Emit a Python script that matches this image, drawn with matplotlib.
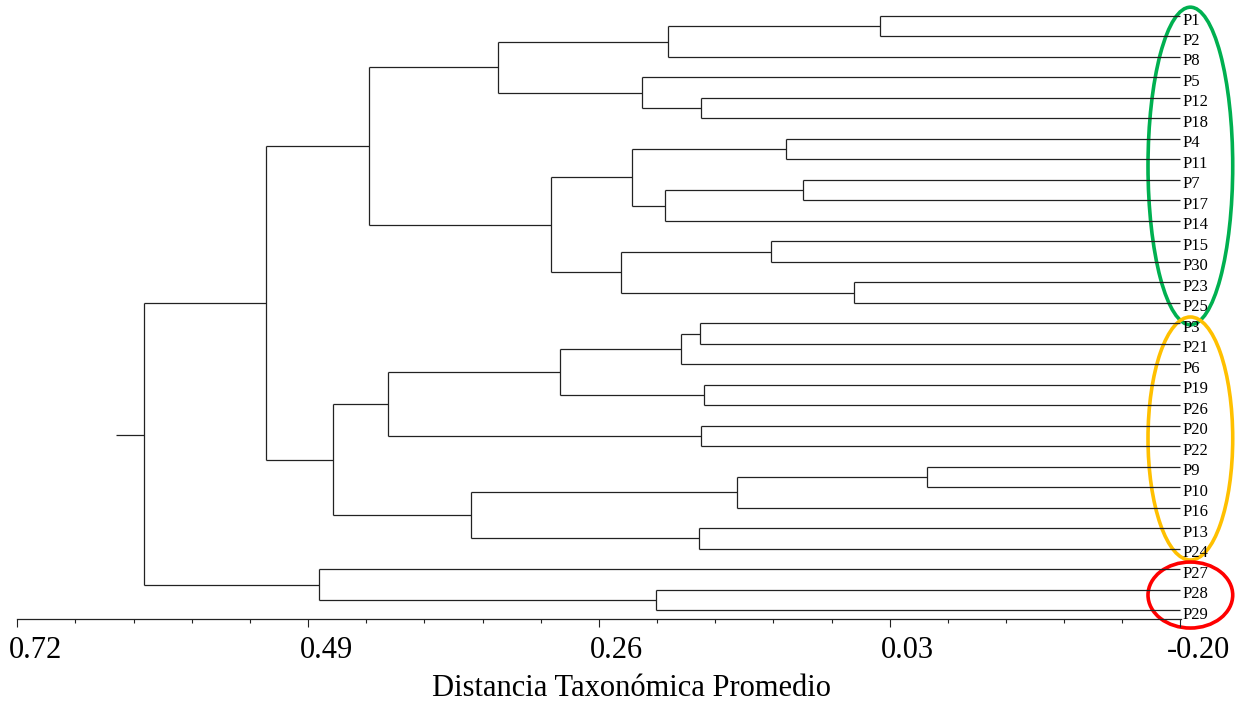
import matplotlib
matplotlib.use("Agg")
import matplotlib.pyplot as plt
from matplotlib.patches import Ellipse
from matplotlib.transforms import ScaledTranslation
import numpy as np

# ------------------ Data ------------------
leaves = ["P1", "P2", "P8", "P5", "P12", "P18", "P4", "P11", "P7", "P17",
          "P14", "P15", "P30", "P23", "P25", "P3", "P21", "P6", "P19", "P26",
          "P20", "P22", "P9", "P10", "P16", "P13", "P24", "P27", "P28", "P29"]

# merges: node name, left child, right child, distance
merge_node = ["N1", "N2", "N3", "N4", "N5", "N6", "N7", "N8", "N9", "N10",
              "N11", "N12", "N13", "N14", "N15", "N16", "N17", "N18", "N19", "N20",
              "N21", "N22", "N23", "N24", "N25", "N26", "N27", "N28", "N29"]
merge_left = ["P1", "N1", "P12", "P5", "N2", "P4", "P7", "N7", "N6", "P15",
              "P23", "N10", "N9", "N5", "P3", "N15", "P19", "N16", "P20", "N18",
              "P9", "N21", "P13", "N22", "N20", "N14", "P28", "P27", "N26"]
merge_right = ["P2", "P8", "P18", "N3", "N4", "P11", "P17", "P14", "N8", "P30",
               "P25", "N11", "N12", "N13", "P21", "P6", "P26", "N17", "P22", "N19",
               "P10", "P16", "P24", "N23", "N24", "N25", "P29", "N27", "N28"]
merge_dist = [0.038, 0.205, 0.1796, 0.226, 0.3399, 0.1121, 0.0986, 0.2081, 0.2339, 0.1237,
              0.0583, 0.2426, 0.2975, 0.4415, 0.1801, 0.1954, 0.177, 0.2909, 0.1796, 0.4267,
              0.0005, 0.1506, 0.1812, 0.3613, 0.4702, 0.5235, 0.2149, 0.4813, 0.6198]
root_stub = 0.6422
root_stub_row = 20.45   # where the root stub meets the root bar (in leaf rows)

group_first = ["P1", "P3", "P27"]
group_last = ["P25", "P24", "P29"]
group_colors = ["#00B050", "#FFC000", "#FF0000"]

xticks = [0.72, 0.49, 0.26, 0.03, -0.20]
xtick_labels = ["0.72", "0.49", "0.26", "0.03", "-0.20"]
xlabel = "Distancia Taxonómica Promedio"

# ------------------ Figure ------------------
plt.rcParams["font.family"] = ["Liberation Serif", "DejaVu Serif"]
fig = plt.figure(figsize=(12.41, 7.04), dpi=100)
ax = fig.add_axes([17.3 / 1241, 85 / 704, 1163.2 / 1241, 619 / 704])

leaf_x = -0.20
pos_y = {name: i for i, name in enumerate(leaves)}
pos_x = {name: leaf_x for name in leaves}
line_kw = dict(color="#222222", lw=0.9, solid_capstyle="butt")

for node, a, b, d in zip(merge_node, merge_left, merge_right, merge_dist):
    ya, yb = pos_y[a], pos_y[b]
    ax.plot([d, d], [ya, yb], **line_kw)
    ax.plot([d, pos_x[a]], [ya, ya], **line_kw)
    ax.plot([d, pos_x[b]], [yb, yb], **line_kw)
    pos_y[node] = (ya + yb) / 2
    pos_x[node] = d

root = merge_node[-1]
ax.plot([root_stub, pos_x[root]], [root_stub_row, root_stub_row], **line_kw)

# leaf labels
lab_off = ScaledTranslation(0.02, -0.045, fig.dpi_scale_trans)
for name in leaves:
    ax.text(leaf_x, pos_y[name], name, ha="left", va="center", fontsize=12,
            transform=ax.transData + lab_off, clip_on=False)

# cluster ellipses
ell_shift = [0.32, 0.12, 0.26]
ell_height = [15.5, 11.86, 3.22]
for first, last, col, sh, hh in zip(group_first, group_last, group_colors, ell_shift, ell_height):
    yc = (pos_y[first] + pos_y[last]) / 2 + sh
    e = Ellipse((-0.2078, yc), 0.067, hh, fill=False, edgecolor=col, lw=2.6, clip_on=False)
    ax.add_patch(e)

# ------------------ Axes ------------------
ax.set_xlim(0.72, -0.20)
ax.set_ylim((619 - 16) / 20.49, -16 / 20.49)
for s in ["top", "right", "left"]:
    ax.spines[s].set_visible(False)
ax.spines["bottom"].set_linewidth(0.9)
ax.spines["bottom"].set_color("#222222")
ax.set_yticks([])
ax.set_xticks(xticks)
ax.set_xticklabels(xtick_labels, fontsize=22)
ax.set_xticks(np.arange(0.72, -0.2001, -0.046), minor=True)
ax.tick_params(axis="x", which="major", length=6, width=0.8, pad=6, color="#222222")
ax.tick_params(axis="x", which="minor", length=3, width=0.8, color="#222222")
for lab in ax.get_xticklabels():
    lab.set_transform(lab.get_transform() + ScaledTranslation(0.18, 0, fig.dpi_scale_trans))

ax.set_xlabel(xlabel, fontsize=22)
ax.xaxis.label.set_va("bottom")
ax.xaxis.set_label_coords((632 - 17.3) / 1163.2, (0.5 - 85) / 619)

fig.savefig("out.png", dpi=100)
